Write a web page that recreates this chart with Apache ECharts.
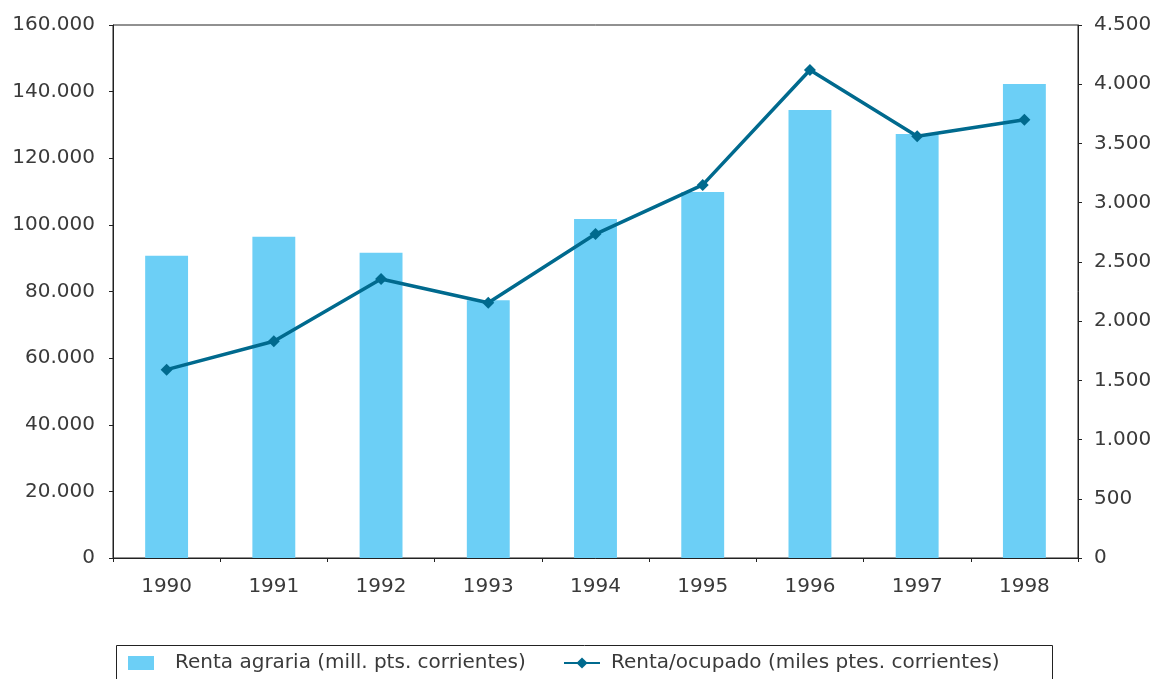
<!DOCTYPE html>
<html>
<head>
<meta charset="utf-8">
<script src="https://cdn.jsdelivr.net/npm/echarts@6/dist/echarts.min.js"></script>
<style>
  html, body { margin: 0; padding: 0; background: #fff; }
  #chart { width: 1158px; height: 679px; }
</style>
</head>
<body>
<div id="chart"></div>
<script>
const years = ['1990', '1991', '1992', '1993', '1994', '1995', '1996', '1997', '1998'];
const rentaAgraria = [90700, 96400, 91600, 77400, 101800, 109900, 134500, 127300, 142300];
const rentaOcupado = [1590, 1830, 2355, 2155, 2735, 3150, 4120, 3560, 3700];
const leftTicks = { min: 0, max: 160000, interval: 20000 };
const rightTicks = { min: 0, max: 4500, interval: 500 };

const barName = 'Renta agraria (mill. pts. corrientes)';
const lineName = 'Renta/ocupado (miles ptes. corrientes)';

const fmt = v => v === 0 ? '0' : String(v).replace(/\B(?=(\d{3})+(?!\d))/g, '.');

const font = '"DejaVu Sans", sans-serif';
const textColor = '#3a3a3a';
const barColor = '#6ccff6';
const lineColor = '#006a8e';

const chart = echarts.init(document.getElementById('chart'));
chart.setOption({
  animation: false,
  textStyle: { fontFamily: font },
  grid: { left: 113, right: 80, top: 25, bottom: 121, show: true, borderColor: '#222', borderWidth: 1 },
  legend: [{
    left: 128, top: 653, padding: 0,
    textStyle: { fontSize: 20, color: textColor, fontFamily: font, padding: [0, 0, 0, 16] },
    data: [{ name: barName, icon: 'rect', itemStyle: { color: barColor } }],
    itemWidth: 26, itemHeight: 14
  }, {
    left: 563, top: 653, padding: 0,
    textStyle: { fontSize: 20, color: textColor, fontFamily: font, padding: [0, 0, 0, 6] },
    data: [{ name: lineName }],
    itemWidth: 36, itemHeight: 14
  }],
  graphic: [{
    type: 'rect', left: 114, top: 643,
    shape: { width: 936, height: 50 },
    style: { fill: 'none', stroke: '#222', lineWidth: 1 }
  }],
  xAxis: {
    type: 'category',
    data: years,
    axisLine: { lineStyle: { color: '#222' } },
    axisTick: { show: true, length: 4, lineStyle: { color: '#222' } },
    axisLabel: { fontSize: 20, color: textColor, margin: 19 }
  },
  yAxis: [{
    type: 'value', min: leftTicks.min, max: leftTicks.max, interval: leftTicks.interval,
    axisLine: { show: true, lineStyle: { color: '#222' } },
    axisTick: { show: true, length: 4, lineStyle: { color: '#222' } },
    splitLine: { show: false },
    axisLabel: { fontSize: 20, color: textColor, margin: 18, formatter: fmt }
  }, {
    type: 'value', min: rightTicks.min, max: rightTicks.max, interval: rightTicks.interval,
    position: 'right',
    axisLine: { show: true, lineStyle: { color: '#222' } },
    axisTick: { show: true, length: 4, lineStyle: { color: '#222' } },
    splitLine: { show: false },
    axisLabel: { fontSize: 20, color: textColor, margin: 16, formatter: fmt }
  }],
  series: [{
    name: barName,
    type: 'bar',
    data: rentaAgraria,
    barWidth: '40%',
    itemStyle: { color: barColor }
  }, {
    name: lineName,
    type: 'line',
    yAxisIndex: 1,
    data: rentaOcupado,
    symbol: 'diamond',
    symbolSize: 12,
    lineStyle: { color: lineColor, width: 3.5 },
    itemStyle: { color: lineColor }
  }]
});
</script>
</body>
</html>
